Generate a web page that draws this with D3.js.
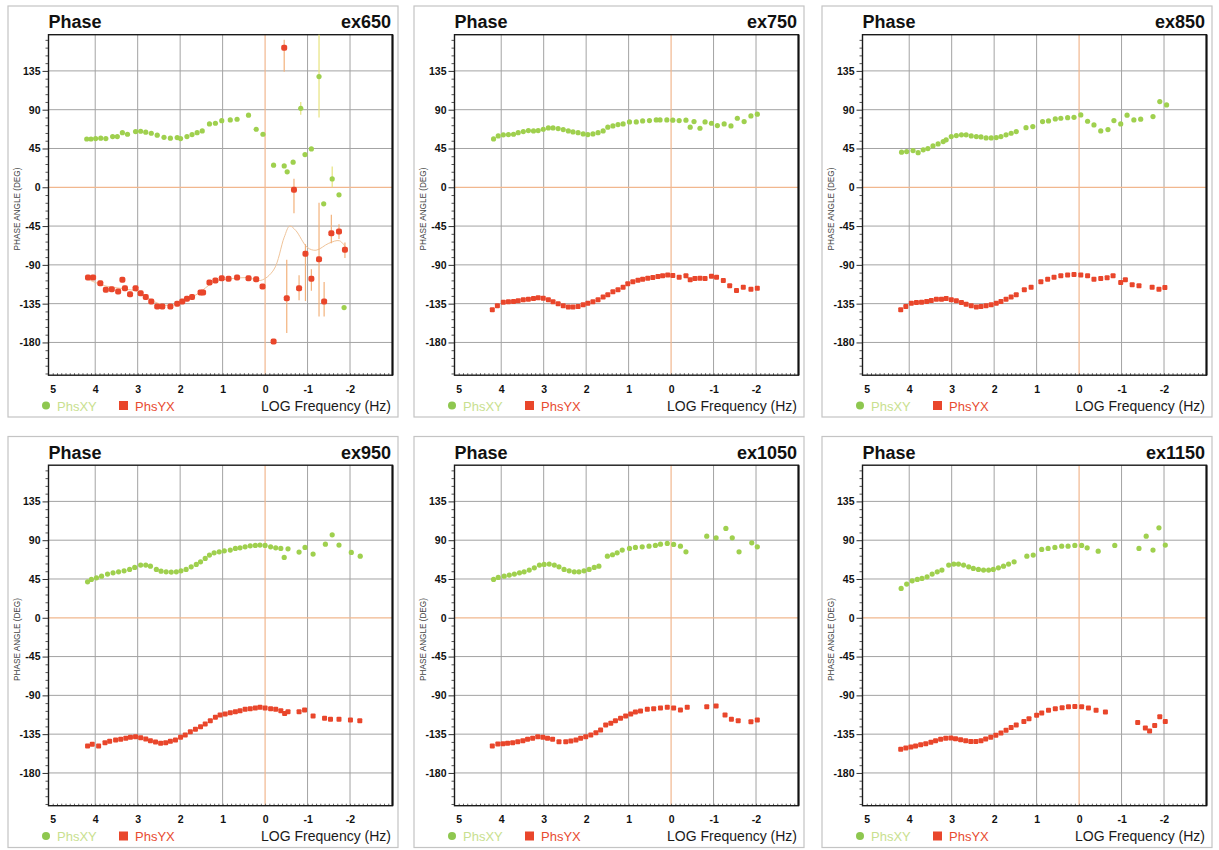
<!DOCTYPE html>
<html>
<head>
<meta charset="utf-8">
<script src="https://cdn.jsdelivr.net/npm/d3@7"></script>
<style>
  body { margin: 0; background: #fff; }
  text { font-family: Arial, "Liberation Sans", Helvetica, sans-serif; }
</style>
</head>
<body>
<svg id="chart" width="1219" height="850"></svg>
<script>
// ---- tick labels ----
const freqTicks = [5, 4, 3, 2, 1, 0, -1, -2];
const phaseTicks = [135, 90, 45, 0, -45, -90, -135, -180];
const siteNames = ["ex650", "ex750", "ex850", "ex950", "ex1050", "ex1150"];

// ---- phase data: [log10 frequency (Hz), phase (deg)] ----
const ex650XY = [[4.20,56],[4.10,56],[3.99,56.5],[3.87,57],[3.75,56.5],[3.59,58.8],[3.48,58.8],[3.36,63.4],[3.24,61.5],[3.05,64.6],[2.93,65],[2.81,63.9],[2.68,62.7],[2.54,60.4],[2.38,58],[2.23,57],[2.07,57.7],[1.99,56.5],[1.84,58.8],[1.72,61.1],[1.60,63.4],[1.48,65.4],[1.31,73.5],[1.17,74.3],[1.02,77.3],[0.82,78.1],[0.66,78.9],[0.39,83.6],[0.21,67.3],[0.05,61.5],[-0.20,25.6],[-0.45,24.8],[-0.52,17.9],[-0.66,29.1],[-0.84,91.7],[-0.94,37.9],[-1.09,44.5],[-1.27,128.4],[-1.38,-19.2],[-1.58,9.7],[-1.74,-8.8],[-1.86,-139.5]];
const ex650YX = [[4.17,-104.7],[4.05,-104.7],[3.88,-111.2],[3.75,-119],[3.61,-118.2],[3.46,-120.9],[3.36,-107.4],[3.30,-117],[3.18,-124],[3.05,-117],[2.93,-122.8],[2.81,-127.4],[2.68,-132.5],[2.54,-138.3],[2.42,-138.3],[2.23,-138.3],[2.07,-135.2],[1.95,-132.5],[1.84,-129.4],[1.72,-127.4],[1.52,-122],[1.46,-122],[1.31,-110.5],[1.17,-108.2],[1.02,-105.4],[0.86,-106.2],[0.66,-104.7],[0.39,-105.4],[0.21,-106.6],[0.06,-115.1],[-0.20,-178.9],[-0.45,162],[-0.51,-128.6],[-0.68,-3],[-0.80,-117],[-0.95,-77.2],[-1.09,-106.2],[-1.27,-83.4],[-1.39,-132.5],[-1.56,-53.2],[-1.74,-51.4],[-1.88,-72.6]];
// error bars for ex650: [log f, low, high]
const ex650XYErr = [[-1.27,81,177],[-1.58,0,24],[-0.84,84,99]];
const ex650YXErr = [[-0.45,134,171],[-0.68,-30,10],[-0.51,-169,-84],[-0.80,-131,-102],[-0.95,-132,-66],[-1.09,-120,-95],[-1.27,-150,-18],[-1.39,-150,-110],[-1.56,-65,-32],[-1.74,-60,-43],[-1.88,-82,-64]];
// smoothed response through the ex650 PhsYX values
const ex650YXFit = [[4.2,-106],[3.8,-114],[3.3,-118],[3.0,-121],[2.6,-133],[2.3,-137],[2.0,-134],[1.6,-124],[1.2,-110],[0.8,-106],[0.4,-105],[0.1,-108],[-0.2,-96],[-0.45,-58],[-0.58,-45],[-0.72,-50],[-1.0,-70],[-1.2,-73],[-1.5,-65],[-1.75,-62],[-1.9,-70]];

const ex750XY = [[4.18,56.1],[4.07,59.6],[3.95,60.8],[3.83,61.1],[3.71,61.5],[3.60,63.4],[3.48,64.6],[3.36,65.8],[3.24,65.4],[3.13,65.8],[3.01,67.3],[2.89,68.9],[2.78,68.9],[2.66,68.1],[2.54,66.9],[2.42,65.4],[2.31,64.2],[2.19,63.4],[2.07,61.9],[1.96,61.1],[1.84,61.9],[1.72,63.4],[1.60,65.4],[1.49,69.7],[1.37,71.2],[1.25,72.7],[1.13,73.5],[0.98,75.8],[0.82,75.8],[0.67,77],[0.51,77.4],[0.35,78.1],[0.26,78.1],[0.10,78.1],[-0.04,77.8],[-0.19,77.4],[-0.35,77.8],[-0.45,69.7],[-0.54,76.2],[-0.68,68.5],[-0.80,75.8],[-0.95,74.3],[-1.09,71.6],[-1.25,73.5],[-1.41,71.2],[-1.56,80.1],[-1.72,76.2],[-1.88,82.8],[-2.03,84.8]];
const ex750YX = [[4.21,-142.1],[4.09,-137.5],[3.95,-133.3],[3.83,-132.9],[3.71,-132.5],[3.60,-131.7],[3.48,-130.6],[3.36,-129.8],[3.24,-129],[3.13,-128.2],[3.01,-128.6],[2.89,-130.6],[2.78,-132.9],[2.66,-135.2],[2.54,-137.5],[2.42,-139],[2.31,-139],[2.19,-138.3],[2.07,-136.3],[1.96,-134.4],[1.84,-132.9],[1.72,-130.6],[1.60,-127.4],[1.49,-124.8],[1.37,-121.3],[1.25,-119],[1.13,-115.9],[1.02,-112],[0.90,-109.7],[0.78,-107.8],[0.67,-106.6],[0.55,-105.4],[0.43,-104.7],[0.31,-103.5],[0.20,-102.7],[0.08,-101.9],[-0.04,-102.3],[-0.19,-104.3],[-0.35,-102.7],[-0.45,-107.4],[-0.56,-105.8],[-0.68,-105.4],[-0.80,-105.8],[-0.95,-103.1],[-1.07,-104.3],[-1.23,-108.2],[-1.38,-114.3],[-1.54,-119.8],[-1.70,-115.9],[-1.88,-118.2],[-2.03,-117]];

const ex850XY = [[4.18,40.7],[4.06,41.4],[3.91,42.6],[3.79,40.2],[3.67,43.4],[3.56,44.9],[3.44,48],[3.32,50.3],[3.20,53],[3.13,55],[3.01,58.8],[2.89,60],[2.77,60.8],[2.66,60.8],[2.54,59.6],[2.42,58.8],[2.31,58.4],[2.19,57.3],[2.07,57.3],[1.95,57.7],[1.84,58.8],[1.72,60.8],[1.60,62.7],[1.48,64.6],[1.25,69.2],[1.09,70.4],[0.86,76.2],[0.72,77],[0.56,79.3],[0.43,80.1],[0.27,80.8],[0.12,81.2],[-0.04,83.9],[-0.20,76.6],[-0.35,72.3],[-0.51,65.4],[-0.68,66.9],[-0.82,77.4],[-0.98,73.5],[-1.13,83.6],[-1.29,78.1],[-1.45,79],[-1.74,82],[-1.90,99.4],[-2.06,95.5]];
const ex850YX = [[4.20,-142.1],[4.08,-138.3],[3.95,-134.4],[3.83,-133.7],[3.71,-133.3],[3.59,-132.5],[3.48,-131.3],[3.36,-129.8],[3.24,-129.8],[3.13,-129],[3.01,-130.6],[2.89,-131.7],[2.77,-133.7],[2.66,-135.6],[2.54,-137.5],[2.42,-139],[2.31,-138.3],[2.19,-137.5],[2.07,-136.3],[1.95,-134.4],[1.84,-132.5],[1.72,-129.8],[1.60,-127.4],[1.48,-124.8],[1.29,-119],[1.13,-115.9],[0.90,-109.7],[0.74,-106.6],[0.59,-104.3],[0.43,-102.7],[0.27,-101.9],[0.12,-101.2],[-0.04,-101.9],[-0.20,-102.7],[-0.35,-106.6],[-0.51,-105.8],[-0.66,-105],[-0.80,-102.7],[-0.98,-110.5],[-1.09,-107.4],[-1.25,-113.2],[-1.41,-114.3],[-1.72,-115.9],[-1.88,-118.2],[-2.02,-116.3]];

const ex950XY = [[4.18,41.7],[4.09,44.5],[3.97,46.4],[3.85,48.3],[3.71,50.7],[3.58,52.2],[3.45,53.3],[3.32,54.5],[3.19,56.1],[3.07,58.4],[2.93,61.1],[2.81,61.1],[2.70,59.9],[2.56,56.1],[2.45,54.1],[2.33,53.3],[2.21,53],[2.09,53.3],[1.98,54.5],[1.86,56.1],[1.74,59.1],[1.62,61.9],[1.52,64.9],[1.41,68.9],[1.31,72.7],[1.20,75.4],[1.08,76.5],[0.96,77.7],[0.82,78.5],[0.70,80.5],[0.59,81.2],[0.47,82.3],[0.35,83.5],[0.23,83.9],[0.12,84.3],[0.00,83.9],[-0.13,82.3],[-0.25,81.2],[-0.37,80.5],[-0.45,70],[-0.54,80],[-0.80,76.2],[-0.94,81.6],[-1.13,73.9],[-1.42,85.4],[-1.58,96.2],[-1.74,84.3],[-2.03,75.8],[-2.24,71.5]];
const ex950YX = [[4.18,-148.8],[4.07,-146.8],[3.92,-148.8],[3.77,-144.9],[3.66,-143.3],[3.52,-141.8],[3.40,-141],[3.28,-139.8],[3.17,-138.7],[3.05,-138],[2.93,-139.1],[2.81,-140.6],[2.70,-142.6],[2.58,-144.1],[2.46,-145.6],[2.34,-144.9],[2.23,-143.3],[2.11,-141.8],[1.99,-138.7],[1.88,-136],[1.76,-132.2],[1.64,-129.4],[1.52,-126.4],[1.41,-123.2],[1.29,-119.4],[1.17,-115.5],[1.06,-112.8],[0.94,-111.7],[0.82,-110.1],[0.70,-109],[0.59,-107.8],[0.47,-106.2],[0.35,-105.5],[0.23,-104.7],[0.12,-103.9],[0.00,-104.7],[-0.13,-105.5],[-0.25,-106.2],[-0.37,-107.8],[-0.46,-110.9],[-0.54,-109],[-0.80,-109],[-0.93,-107],[-1.13,-114],[-1.40,-116.6],[-1.54,-117.8],[-1.74,-117.8],[-2.01,-118.6],[-2.23,-119.4]];

const ex1050XY = [[4.18,44.5],[4.07,46.8],[3.93,48.3],[3.81,49.5],[3.69,50.7],[3.57,52.2],[3.46,53.3],[3.34,55.3],[3.22,58],[3.10,61.1],[2.99,61.9],[2.87,62.3],[2.75,61.1],[2.64,59.1],[2.52,56.1],[2.40,54.5],[2.28,53.3],[2.17,53.3],[2.05,54.5],[1.93,56.1],[1.81,58.4],[1.70,59.9],[1.50,71.5],[1.38,73.1],[1.27,75.4],[1.15,78.5],[0.98,80.5],[0.84,81.6],[0.68,82.3],[0.52,83.1],[0.37,83.9],[0.25,85.4],[0.09,86.2],[-0.06,85.1],[-0.22,83.1],[-0.35,76.5],[-0.84,94.7],[-1.06,92.8],[-1.29,103.6],[-1.44,92.8],[-1.60,76.5],[-1.90,87],[-2.03,82.3]];
const ex1050YX = [[4.21,-148.8],[4.08,-146.4],[3.96,-146.1],[3.85,-145.6],[3.73,-144.9],[3.61,-143.8],[3.49,-142.6],[3.38,-141],[3.26,-139.8],[3.14,-138],[3.02,-138.7],[2.91,-139.8],[2.79,-141],[2.64,-143.8],[2.48,-143.8],[2.36,-142.9],[2.24,-141.8],[2.13,-139.8],[2.01,-138],[1.89,-136],[1.77,-133.3],[1.66,-130.2],[1.54,-124.4],[1.42,-122.4],[1.31,-119.4],[1.19,-116.6],[1.07,-114],[0.95,-111.7],[0.84,-109.3],[0.72,-108.2],[0.56,-106.2],[0.41,-105.5],[0.25,-104.7],[0.09,-103.9],[-0.06,-104.7],[-0.22,-107],[-0.38,-103.9],[-0.84,-103.2],[-1.06,-102.4],[-1.27,-112.8],[-1.42,-117.8],[-1.58,-119.4],[-1.88,-120.6],[-2.03,-118.6]];

const ex1150XY = [[4.19,34.1],[4.06,39.1],[3.93,42.9],[3.81,44.5],[3.70,45.7],[3.58,47.5],[3.46,50.7],[3.34,53.3],[3.23,55.3],[3.07,61.1],[2.95,62.3],[2.84,62.3],[2.72,61.1],[2.60,59.1],[2.49,57.3],[2.37,56.1],[2.25,55.3],[2.13,55.3],[2.02,56.1],[1.90,58],[1.78,59.9],[1.66,62.3],[1.53,64.9],[1.23,71.5],[1.08,72.7],[0.88,79.3],[0.73,80.5],[0.57,81.6],[0.41,83.1],[0.26,83.1],[0.10,83.9],[-0.06,83.9],[-0.19,81.2],[-0.45,77.3],[-0.84,83.9],[-1.41,80.5],[-1.58,94.7],[-1.74,78.5],[-1.88,104.3],[-2.03,84.3]];
const ex1150YX = [[4.20,-152.5],[4.08,-151],[3.96,-150],[3.85,-148.8],[3.73,-147.3],[3.61,-146],[3.49,-144.5],[3.38,-142.6],[3.26,-141],[3.14,-139.8],[3.02,-139.5],[2.91,-140.2],[2.79,-141.4],[2.67,-142.6],[2.55,-143.6],[2.43,-143.6],[2.31,-142.6],[2.20,-140.6],[2.08,-138.7],[1.96,-136.4],[1.84,-133.7],[1.72,-130.6],[1.60,-127.4],[1.48,-124.4],[1.30,-120.2],[1.18,-117],[1.00,-113.2],[0.88,-110.5],[0.72,-107.4],[0.56,-105.4],[0.40,-104.3],[0.25,-103.2],[0.10,-102.8],[-0.06,-103.2],[-0.22,-104.7],[-0.40,-107.4],[-0.62,-109.3],[-1.38,-121.5],[-1.56,-127.8],[-1.66,-131.2],[-1.78,-125],[-1.90,-114.8],[-2.03,-120.2]];

const xyValues = [ex650XY, ex750XY, ex850XY, ex950XY, ex1050XY, ex1150XY];
const yxValues = [ex650YX, ex750YX, ex850YX, ex950YX, ex1050YX, ex1150YX];

// ---- drawing ----
const colours = {
  xy: "#9fd04e", xyText: "#c9df8f", yx: "#e9462b", yxText: "#e84b30",
  grid: "#a3a3a3", zero: "#f1b78e", xyErr: "#e7e37e", yxErr: "#f3b27c", fit: "#f0c49a"
};

const frameW = 390, frameH = 411;
const plotL = 40.5, plotT = 28.7, plotW = 344, plotH = 340.5;
const frameX = [8, 414, 822], frameY = [6, 436.5];

const svg = d3.select("#chart");
const x = d3.scaleLinear().domain([5.1, -3.0]).range([0, plotW]);
const y = d3.scaleLinear().domain([177, -218]).range([0, plotH]);

siteNames.forEach((site, i) => {
  const col = i % 3, row = Math.floor(i / 3);
  const g = svg.append("g").attr("transform", `translate(${frameX[col]},${frameY[row]})`);

  // panel frame
  g.append("rect").attr("x", 0).attr("y", 0).attr("width", frameW).attr("height", frameH)
    .attr("fill", "#fff").attr("stroke", "#c4c4c4").attr("stroke-width", 1.2);

  g.append("text").attr("x", plotL).attr("y", 22).attr("font-size", 18).attr("font-weight", "bold")
    .attr("fill", "#111").text("Phase");
  g.append("text").attr("x", plotL + plotW - 1.5).attr("y", 22).attr("font-size", 18).attr("font-weight", "bold")
    .attr("text-anchor", "end").attr("fill", "#111").text(site);

  const p = g.append("g").attr("transform", `translate(${plotL},${plotT})`);

  // grid
  p.append("g").selectAll("line.v").data(freqTicks.filter(d => d !== 0 && d !== 5)).join("line")
    .attr("x1", d => x(d)).attr("x2", d => x(d)).attr("y1", 0).attr("y2", plotH)
    .attr("stroke", colours.grid).attr("stroke-width", 1);
  p.append("g").selectAll("line.h").data(phaseTicks.filter(d => d !== 0)).join("line")
    .attr("x1", 0).attr("x2", plotW).attr("y1", d => y(d)).attr("y2", d => y(d))
    .attr("stroke", colours.grid).attr("stroke-width", 1);
  p.append("line").attr("x1", 0).attr("x2", plotW).attr("y1", y(0)).attr("y2", y(0))
    .attr("stroke", colours.zero).attr("stroke-width", 1.2);
  p.append("line").attr("x1", x(0)).attr("x2", x(0)).attr("y1", 0).attr("y2", plotH)
    .attr("stroke", colours.zero).attr("stroke-width", 1.2);

  // axes
  const yAxis = d3.axisLeft(y).tickValues(phaseTicks).tickSize(6).tickPadding(2).tickFormat(d => String(d));
  const ya = p.append("g").call(yAxis);
  ya.select(".domain").remove();
  ya.selectAll("text").attr("font-size", 10.5).attr("font-weight", "bold").attr("fill", "#111")
    .attr("font-family", "Arial, 'Liberation Sans', sans-serif");
  ya.selectAll("line").attr("stroke", "#333");
  const yMinor = d3.range(-216, 177, 9).filter(d => !phaseTicks.includes(d));
  p.append("g").call(d3.axisLeft(y).tickValues(yMinor).tickSize(3).tickFormat(""))
    .call(a => a.select(".domain").remove())
    .selectAll("line").attr("stroke", "#555");

  const xAxis = d3.axisBottom(x).tickValues(freqTicks).tickSize(0).tickPadding(10).tickFormat(d => String(d));
  const xa = p.append("g").attr("transform", `translate(0,${plotH})`).call(xAxis);
  xa.select(".domain").remove();
  xa.selectAll("text").attr("font-size", 10.5).attr("font-weight", "bold").attr("fill", "#111")
    .attr("font-family", "Arial, 'Liberation Sans', sans-serif");
  p.append("g").attr("transform", `translate(0,${plotH})`)
    .call(d3.axisTop(x).tickValues(d3.range(-29, 51).map(d => d / 10)).tickSize(2).tickFormat(""))
    .call(a => a.select(".domain").remove())
    .selectAll("line").attr("stroke", "#666");

  // plot border
  p.append("rect").attr("x", 0).attr("y", 0).attr("width", plotW).attr("height", plotH)
    .attr("fill", "none").attr("stroke", "#1a1a1a").attr("stroke-width", 1.4);
  p.append("line").attr("x1", plotW).attr("x2", plotW).attr("y1", 0).attr("y2", plotH)
    .attr("stroke", "#111").attr("stroke-width", 2);

  const xyPts = xyValues[i], yxPts = yxValues[i];

  if (i === 0) {
    p.append("path").datum(ex650YXFit)
      .attr("d", d3.line().x(d => x(d[0])).y(d => y(d[1])).curve(d3.curveCatmullRom))
      .attr("fill", "none").attr("stroke", colours.fit).attr("stroke-width", 1);
    p.append("g").selectAll("line").data(ex650XYErr).join("line")
      .attr("x1", d => x(d[0])).attr("x2", d => x(d[0]))
      .attr("y1", d => y(d[1])).attr("y2", d => y(d[2]))
      .attr("stroke", colours.xyErr).attr("stroke-width", 1.2);
    p.append("g").selectAll("line").data(ex650YXErr).join("line")
      .attr("x1", d => x(d[0])).attr("x2", d => x(d[0]))
      .attr("y1", d => y(d[1])).attr("y2", d => y(d[2]))
      .attr("stroke", colours.yxErr).attr("stroke-width", 1.2);
  }

  const sq = i === 0 ? 6 : 5;
  p.append("g").selectAll("rect").data(yxPts).join("rect")
    .attr("x", d => x(d[0]) - sq / 2).attr("y", d => y(d[1]) - sq / 2)
    .attr("width", sq).attr("height", sq).attr("rx", i === 0 ? 2 : 1)
    .attr("fill", colours.yx);
  p.append("g").selectAll("circle").data(xyPts).join("circle")
    .attr("cx", d => x(d[0])).attr("cy", d => y(d[1])).attr("r", 2.6)
    .attr("fill", colours.xy);

  // y axis title
  g.append("text").attr("transform", `translate(12,${203}) rotate(-90)`)
    .attr("text-anchor", "middle").attr("font-size", 8.2).attr("fill", "#444")
    .text("PHASE ANGLE (DEG)");

  // legend
  g.append("circle").attr("cx", 38).attr("cy", 399.5).attr("r", 4).attr("fill", "#8ec74f");
  g.append("text").attr("x", 49).attr("y", 404.5).attr("font-size", 13).attr("fill", colours.xyText).text("PhsXY");
  g.append("rect").attr("x", 111).attr("y", 395).attr("width", 9).attr("height", 9).attr("fill", colours.yx);
  g.append("text").attr("x", 127).attr("y", 404.5).attr("font-size", 13).attr("fill", colours.yxText).text("PhsYX");
  g.append("text").attr("x", plotL + plotW - 1.5).attr("y", 404.5).attr("font-size", 14)
    .attr("text-anchor", "end").attr("fill", "#1a1a1a").text("LOG Frequency (Hz)");
});
</script>
</body>
</html>
